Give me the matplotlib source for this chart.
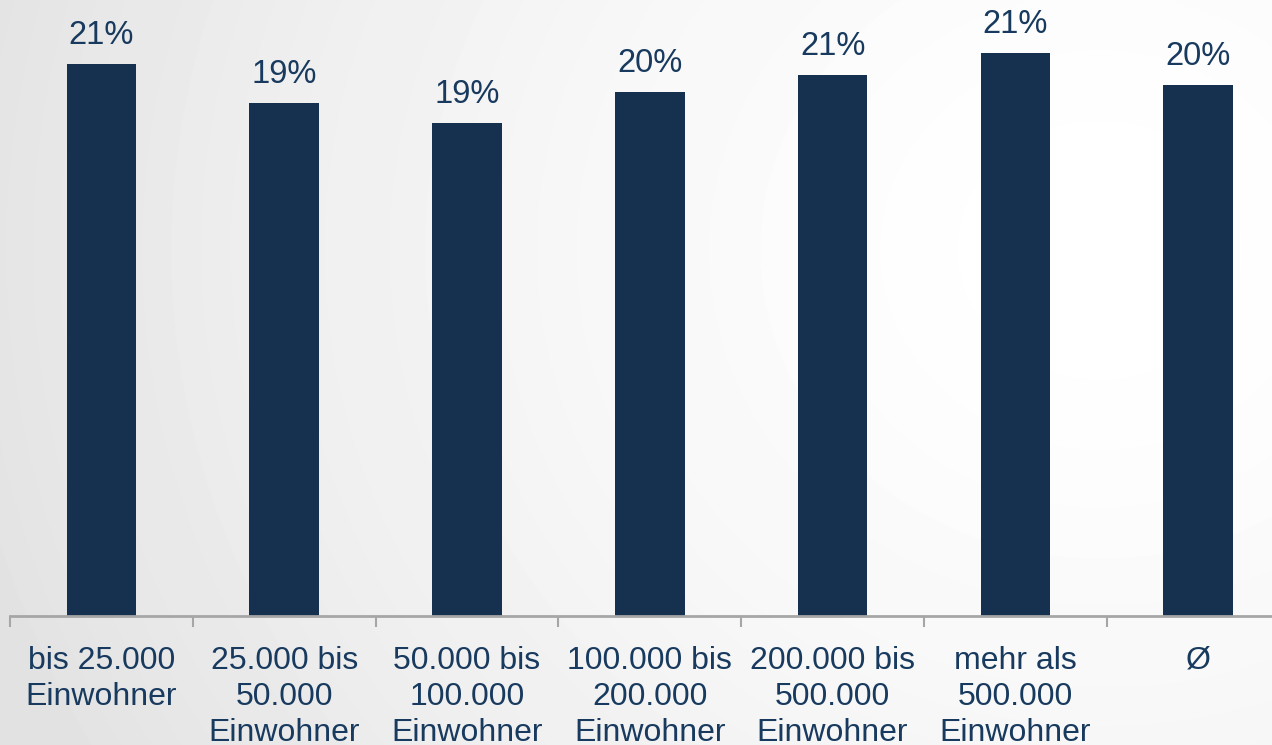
import numpy as np
import matplotlib.pyplot as plt

# data
categories = ["bis 25.000\nEinwohner", "25.000 bis\n50.000\nEinwohner",
              "50.000 bis\n100.000\nEinwohner", "100.000 bis\n200.000\nEinwohner",
              "200.000 bis\n500.000\nEinwohner", "mehr als\n500.000\nEinwohner", "Ø"]
values = [20.94, 19.47, 18.71, 19.90, 20.53, 21.37, 20.16]

bar_color = "#16304f"
text_color = "#183a5e"

plt.rcParams['font.family'] = ['Liberation Sans', 'DejaVu Sans']

fig = plt.figure(figsize=(12.72, 7.45), dpi=100)

# soft grey-to-white background
bg = fig.add_axes([0, 0, 1, 1], zorder=-10)
yy, xx = np.mgrid[0:745, 0:1272]
d = np.sqrt((xx - 1100.0) ** 2 + ((yy - 250.0) * 1.1) ** 2)
shade = 1 - 0.11 * np.clip(d / 1150.0, 0, 1) ** 1.6
bg.imshow(shade, cmap='gray', vmin=0, vmax=1, aspect='auto', interpolation='bilinear')
bg.axis('off')

ax = fig.add_axes([10 / 1272, 129 / 745, 1279.6 / 1272, 616 / 745])
ax.patch.set_alpha(0)
x = np.arange(len(categories))
bars = ax.bar(x, values, width=0.38, color=bar_color)

for xi, v in zip(x, values):
    ax.annotate(f"{v:.0f}%", (xi, v), xytext=(0, 14.4), textcoords='offset points',
                ha='center', va='baseline', fontsize=23.5, color=text_color)

ax.set_xlim(-0.5, 6.5)
ax.set_ylim(0, 23.38)
for s in ['top', 'right', 'left']:
    ax.spines[s].set_visible(False)
ax.spines['bottom'].set_color('#a6a6a6')
ax.spines['bottom'].set_linewidth(2)
ax.set_yticks([])
ax.set_xticks(x)
ax.set_xticklabels(categories, fontsize=23, color=text_color, linespacing=1.27)
ax.tick_params(axis='x', which='major', length=0, pad=21.5)
ax.set_xticks(np.arange(-0.5, 7, 1), minor=True)
ax.tick_params(axis='x', which='minor', length=8, width=1.5, color='#a6a6a6')

fig.savefig("out.png", dpi=100)
